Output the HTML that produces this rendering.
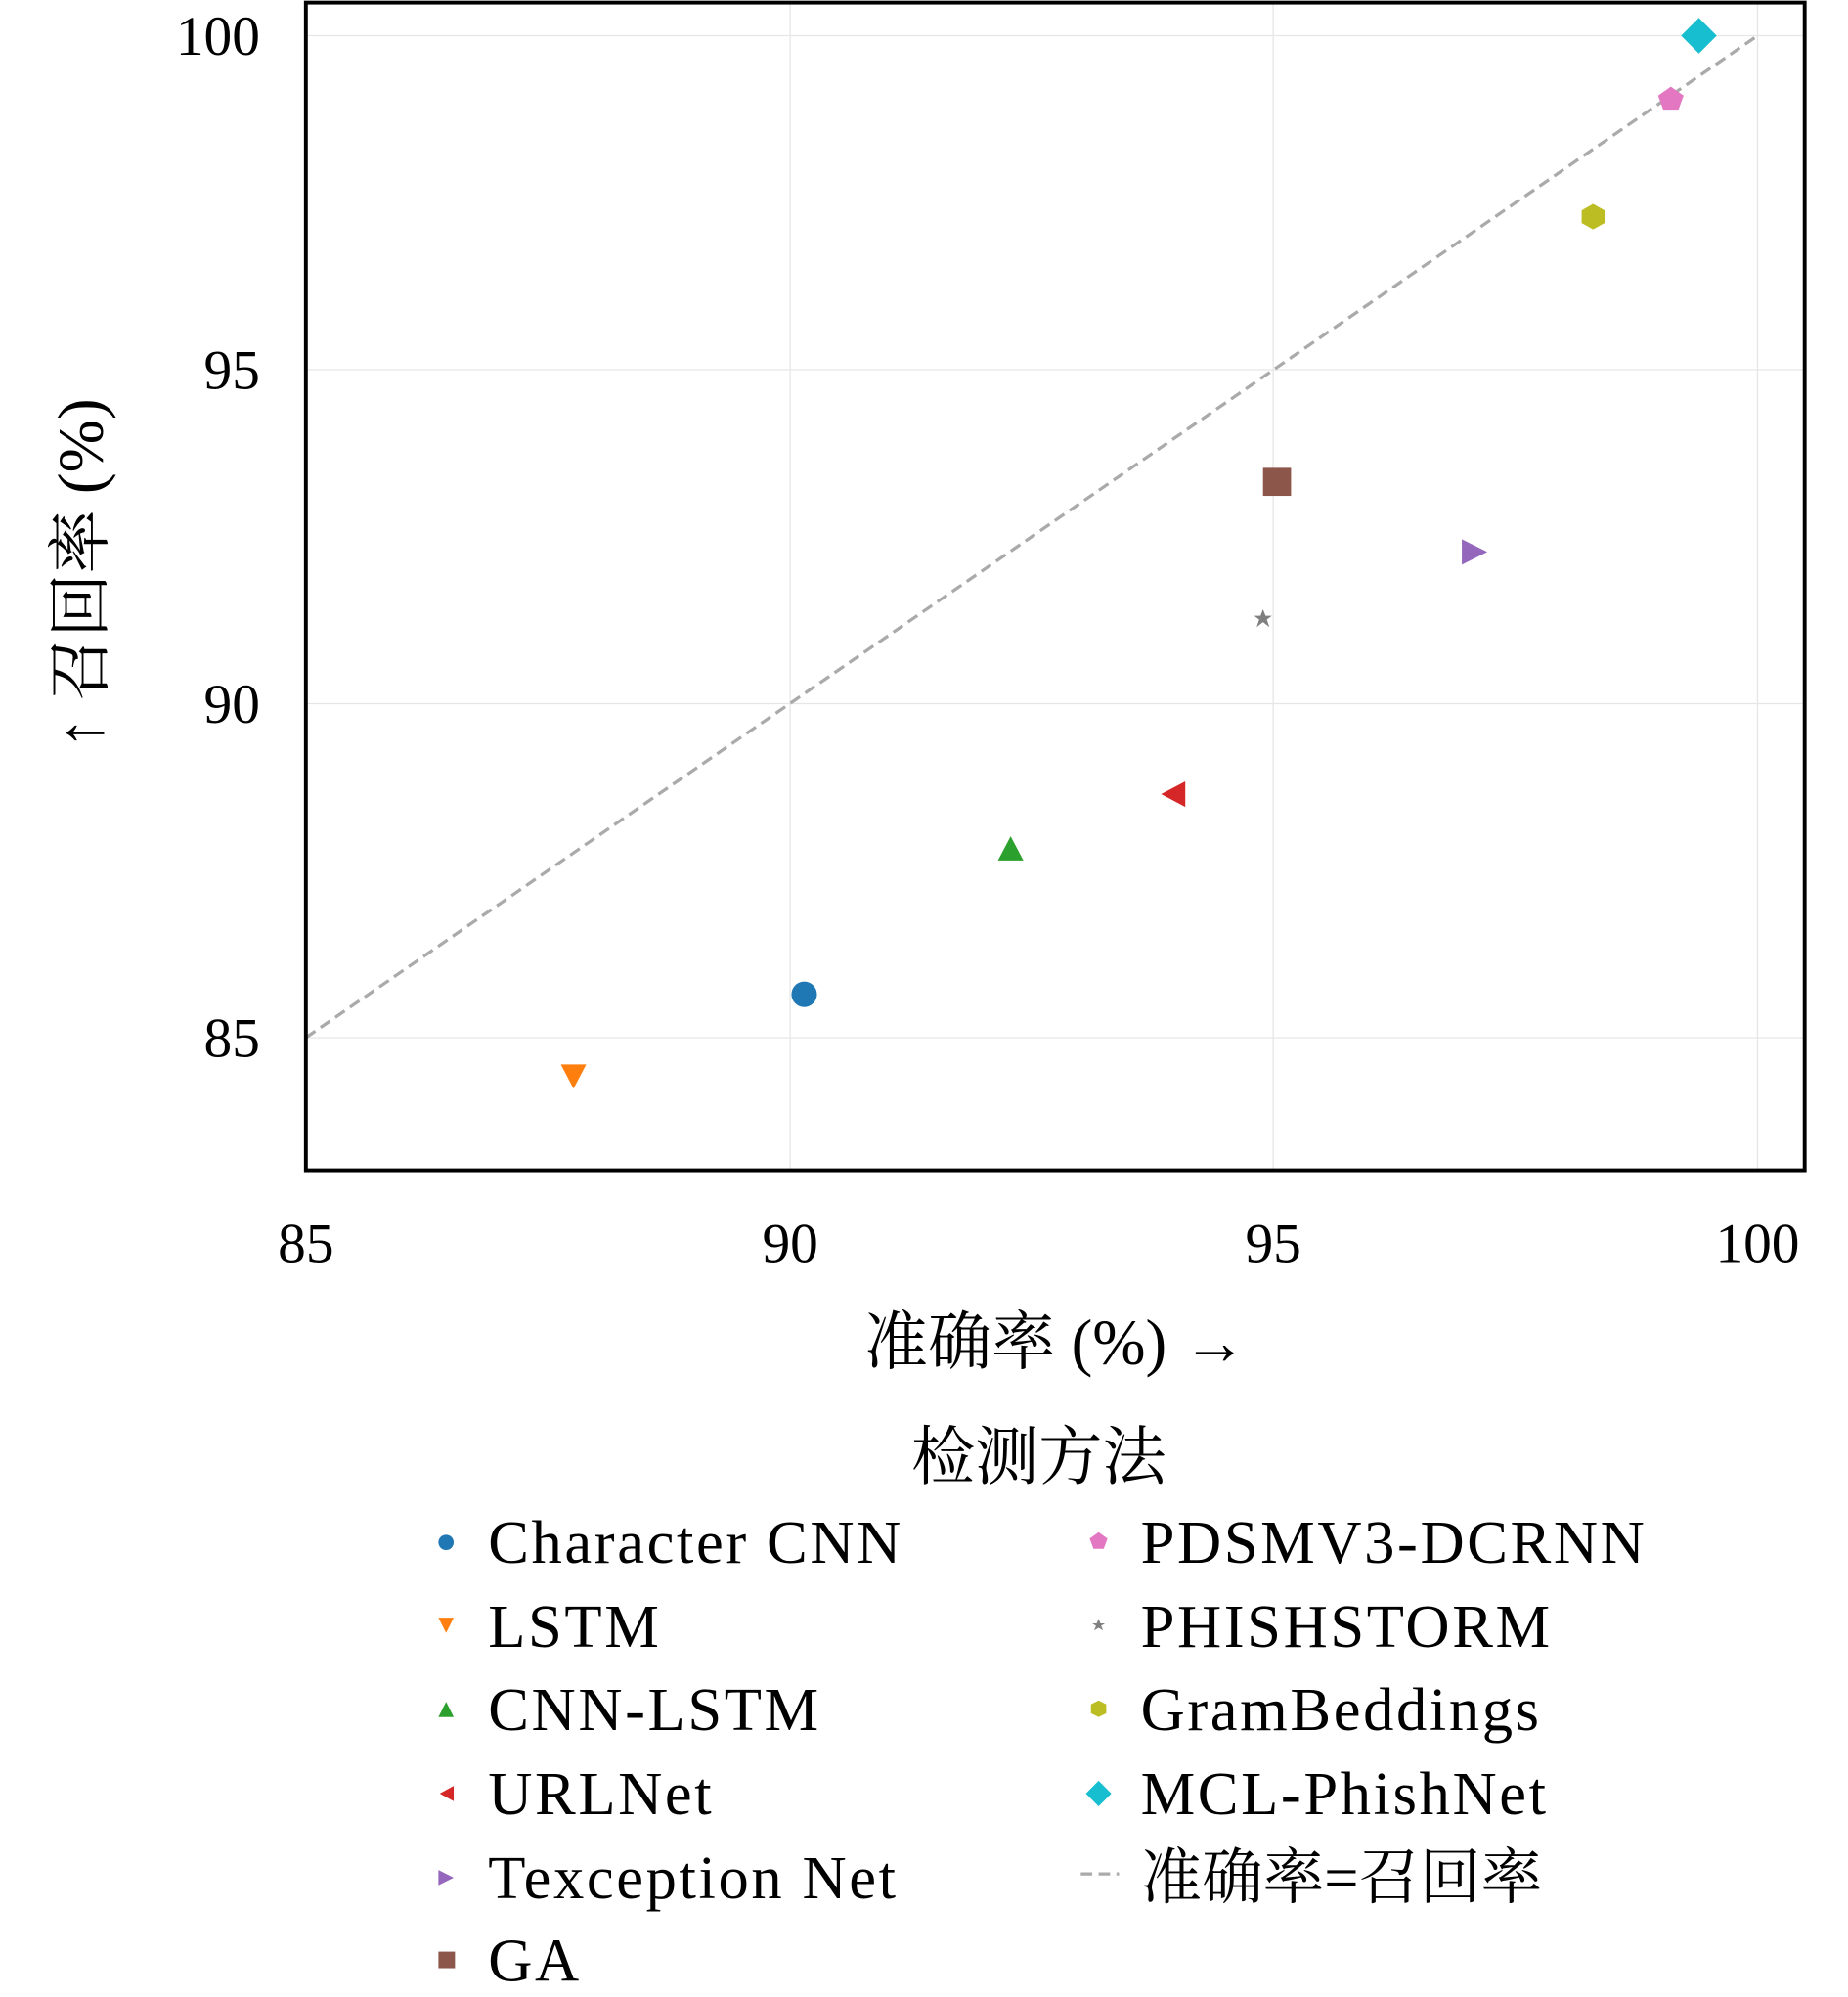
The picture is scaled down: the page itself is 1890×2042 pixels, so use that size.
<!DOCTYPE html>
<html><head><meta charset="utf-8"><style>
html,body{margin:0;padding:0;background:#fff;}
svg{display:block;}
text{font-family:"Liberation Serif","Noto Serif CJK SC",serif;fill:#000;}
</style></head><body>
<svg width="1890" height="2042" viewBox="0 0 1450 1566.6" xmlns="http://www.w3.org/2000/svg">
<rect width="1450" height="1566.6" fill="#fff"/>
<g stroke="#e6e6e6" stroke-width="1">
<line x1="620" y1="2" x2="620" y2="918"/>
<line x1="999" y1="2" x2="999" y2="918"/>
<line x1="1379" y1="2" x2="1379" y2="918"/>
<line x1="240" y1="28" x2="1416" y2="28"/>
<line x1="240" y1="290" x2="1416" y2="290"/>
<line x1="240" y1="552" x2="1416" y2="552"/>
<line x1="240" y1="814" x2="1416" y2="814"/>
</g>
<line x1="240" y1="814" x2="1379" y2="28" stroke="#aaa" stroke-width="2.5" stroke-dasharray="9,5"/>
<rect x="240" y="2" width="1176" height="916" fill="none" stroke="#000" stroke-width="3"/>
<g font-size="44" text-anchor="end">
<text x="204" y="43">100</text>
<text x="204" y="305">95</text>
<text x="204" y="567">90</text>
<text x="204" y="829">85</text>
</g>
<g font-size="44" text-anchor="middle">
<text x="240" y="990">85</text>
<text x="620" y="990">90</text>
<text x="999" y="990">95</text>
<text x="1379" y="990">100</text>
</g>
<text x="828" y="1070" font-size="50" text-anchor="middle">准确率 (%) →</text>
<text transform="translate(80,450) rotate(-90)" font-size="50" text-anchor="middle">↑ 召回率 (%)</text>
<circle cx="631" cy="780" r="10" fill="#1f77b4"/>
<polygon points="440,835 460,835 450,854" fill="#ff7f0e"/>
<polygon points="783,675 803,675 793,656" fill="#2ca02c"/>
<polygon points="930,613 930,633 911,623" fill="#d62728"/>
<polygon points="1147,423 1147,443 1167,433" fill="#9467bd"/>
<rect x="991" y="367" width="22" height="22" fill="#8c564b"/>
<polygon points="991,478 993,483 998,483 994,486 996,492 991,488 986,492 988,486 984,483 989,483" fill="#7f7f7f"/>
<polygon points="1250,160 1259,165 1259,175 1250,180 1241,175 1241,165" fill="#bcbd22"/>
<polygon points="1311,68 1321,75 1317,86 1305,86 1301,75" fill="#e377c2"/>
<polygon points="1333,14 1347,28 1333,42 1319,28" fill="#17becf"/>
<text x="815" y="1160" font-size="50" text-anchor="middle">检测方法</text>
<g font-size="48" letter-spacing="2">
<text x="383" y="1226">Character CNN</text>
<text x="383" y="1292">LSTM</text>
<text x="383" y="1357">CNN-LSTM</text>
<text x="383" y="1423">URLNet</text>
<text x="383" y="1489">Texception Net</text>
<text x="383" y="1554">GA</text>
<text x="895" y="1226">PDSMV3-DCRNN</text>
<text x="895" y="1292">PHISHSTORM</text>
<text x="895" y="1357">GramBeddings</text>
<text x="895" y="1423">MCL-PhishNet</text>
<text x="895" y="1489" letter-spacing="0">准确率=召回率</text>
</g>
<circle cx="350" cy="1210" r="6" fill="#1f77b4"/>
<polygon points="344,1269 356,1269 350,1281" fill="#ff7f0e"/>
<polygon points="344,1347 356,1347 350,1335" fill="#2ca02c"/>
<polygon points="356,1401 356,1413 345,1407" fill="#d62728"/>
<polygon points="344,1467 344,1479 356,1473" fill="#9467bd"/>
<rect x="344" y="1531" width="13" height="13" fill="#8c564b"/>
<polygon points="862,1202 869,1207 866,1215 858,1215 855,1207" fill="#e377c2"/>
<polygon points="862,1270 863.5,1273.5 867,1273.5 864,1275.5 865.5,1279 862,1277 858.5,1279 860,1275.5 857,1273.5 860.5,1273.5" fill="#7f7f7f"/>
<polygon points="862,1334 868,1337 868,1344 862,1347 856,1344 856,1337" fill="#bcbd22"/>
<polygon points="862,1397 872,1407 862,1417 852,1407" fill="#17becf"/>
<line x1="848" y1="1470" x2="878" y2="1470" stroke="#aaa" stroke-width="2.5" stroke-dasharray="9,5"/>
</svg>
</body></html>
